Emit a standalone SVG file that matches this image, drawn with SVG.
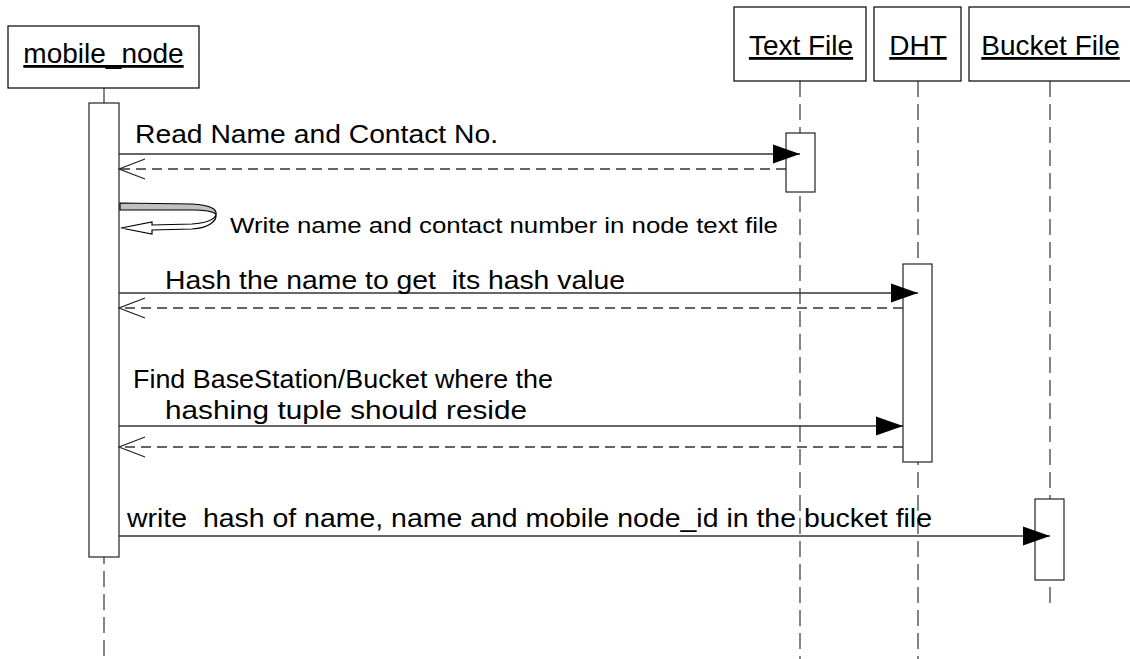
<svg xmlns="http://www.w3.org/2000/svg" width="1130" height="659" viewBox="0 0 1130 659">
<style>
.box{fill:#fff;stroke:#000;stroke-width:1.2}
.act{fill:#fff;stroke:#222;stroke-width:1.2}
.life{stroke:#444;stroke-width:1.3;stroke-dasharray:16 7;fill:none}
.hdr{font-family:"Liberation Sans",Arial,sans-serif;font-size:28px;text-decoration:underline;fill:#000;text-anchor:middle}
.lbl{font-family:"Liberation Sans",Arial,sans-serif;font-size:26px;fill:#000;white-space:pre}
.call{stroke:#333;stroke-width:1.3;fill:none}
.ret{stroke:#333;stroke-width:1.3;fill:none;stroke-dasharray:10 6}
</style>
<defs>
<marker id="filled" markerUnits="userSpaceOnUse" markerWidth="28" markerHeight="20" refX="27" refY="10" orient="auto">
<path d="M0,0.5 L27,10 L0,19.5 Z" fill="#000"/>
</marker>
<marker id="open" markerUnits="userSpaceOnUse" markerWidth="28" markerHeight="22" refX="27" refY="11" orient="auto">
<path d="M1,1 L27,11 L1,21" fill="none" stroke="#222" stroke-width="1.2"/>
</marker>
</defs>
<rect width="1130" height="659" fill="#fff"/>
<g id="lifelines">
<line class="life" x1="104" y1="88" x2="104" y2="659"/>
<line class="life" x1="800" y1="81" x2="800" y2="659"/>
<line class="life" x1="918" y1="81" x2="918" y2="659"/>
<line class="life" x1="1050" y1="81" x2="1050" y2="605"/>
</g>
<g id="mobile_node">
<rect class="box" x="8" y="26" width="191" height="62"/>
<text class="hdr" x="103.5" y="63">mobile_node</text>
<rect class="act" x="89" y="103" width="30" height="454"/>
</g>
<g id="text_file">
<rect class="box" x="734" y="7" width="132" height="74"/>
<text class="hdr" x="801" y="55">Text File</text>
<rect class="act" x="786" y="133" width="29" height="59"/>
</g>
<g id="dht">
<rect class="box" x="874" y="7" width="87" height="74"/>
<text class="hdr" x="918" y="55">DHT</text>
<rect class="act" x="903" y="264" width="29" height="198"/>
</g>
<g id="bucket_file">
<rect class="box" x="969" y="7" width="170" height="74"/>
<text class="hdr" x="1050.5" y="55">Bucket File</text>
<rect class="act" x="1035" y="499" width="29" height="81"/>
</g>
<g id="connectors">
<line class="call" x1="119" y1="154" x2="800" y2="154" marker-end="url(#filled)"/>
<line class="ret" x1="786" y1="169" x2="119" y2="169" marker-end="url(#open)"/>
<path d="M120,203 L192,204 C210,205 217,209 216,214 C212,211 205,210 192,210 L120,210 Z" fill="#c0c0c0" stroke="#000" stroke-width="1.2"/>
<path d="M216,214 C215,220 206,223 192,224 L152,225 L152,222 L121,228 L152,234 L152,230 L192,229 C209,228 217,221 216,214 Z" fill="#fff" stroke="#000" stroke-width="1.2"/>
<line class="call" x1="119" y1="293" x2="918" y2="293" marker-end="url(#filled)"/>
<line class="ret" x1="903" y1="308" x2="119" y2="308" marker-end="url(#open)"/>
<line class="call" x1="119" y1="426" x2="903" y2="426" marker-end="url(#filled)"/>
<line class="ret" x1="903" y1="447" x2="119" y2="447" marker-end="url(#open)"/>
<line class="call" x1="119" y1="536" x2="1050" y2="536" marker-end="url(#filled)"/>
</g>
<g id="labels">
<text class="lbl" x="135" y="143" textLength="363" lengthAdjust="spacingAndGlyphs">Read Name and Contact No.</text>
<text class="lbl" x="230" y="233" style="font-size:22px" textLength="548" lengthAdjust="spacingAndGlyphs">Write name and contact number in node text file</text>
<text class="lbl" x="165" y="289" textLength="460" lengthAdjust="spacingAndGlyphs">Hash the name to get  its hash value</text>
<text class="lbl" x="133" y="388" textLength="420" lengthAdjust="spacingAndGlyphs">Find BaseStation/Bucket where the</text>
<text class="lbl" x="165" y="419" textLength="362" lengthAdjust="spacingAndGlyphs">hashing tuple should reside</text>
<text class="lbl" x="127" y="527" textLength="805" lengthAdjust="spacingAndGlyphs">write  hash of name, name and mobile node_id in the bucket file</text>
</g>
</svg>
